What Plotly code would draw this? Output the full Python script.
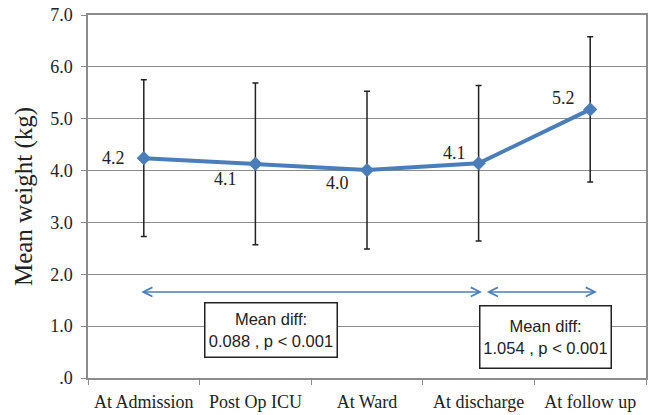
import plotly.graph_objects as go

categories = ["At Admission", "Post Op ICU", "At Ward", "At discharge", "At follow up"]
mean_weight = [4.24, 4.13, 4.01, 4.14, 5.18]
sd_weight = [1.51, 1.56, 1.52, 1.50, 1.40]
y_tick_vals = [0, 1, 2, 3, 4, 5, 6, 7]
y_tick_text = [".0", "1.0", "2.0", "3.0", "4.0", "5.0", "6.0", "7.0"]
box_texts = ["Mean diff:<br>0.088 , p < 0.001", "Mean diff:<br>1.054 , p < 0.001"]

BLUE = "#4A7EBB"
GRID = "#8c8c8c"
SERIF = "Liberation Serif, Times New Roman, serif"
SANS = "Liberation Sans, Arial, sans-serif"

fig = go.Figure()
fig.add_trace(go.Scatter(
    x=categories, y=mean_weight, mode="lines+markers",
    line=dict(color=BLUE, width=4),
    marker=dict(symbol="diamond", size=11, color=BLUE),
    error_y=dict(type="data", array=sd_weight, visible=True,
                 color="#222222", thickness=1.5, width=3),
    showlegend=False,
))

# data labels
label_shifts = [(-17, 0), (-16, -15), (-16, -13), (-11, 10), (-13, 11)]
for c, v, (dx, dy) in zip(categories, mean_weight, label_shifts):
    fig.add_annotation(x=c, y=v, text=f"{v:.1f}", showarrow=False,
                       xanchor="right", yanchor="middle", xshift=dx, yshift=dy,
                       font=dict(family=SERIF, size=18, color="#222222"))

# double-headed arrows
for x0, x1 in [(-0.036, 3.03), (3.06, 4.06)]:
    fig.add_annotation(x=x1, y=1.66, ax=x0, ay=1.66, xref="x", yref="y",
                       axref="x", ayref="y", text="", showarrow=True,
                       arrowside="end+start", arrowhead=5, startarrowhead=5,
                       arrowsize=1.2, startarrowsize=1.2, arrowwidth=1.5,
                       arrowcolor=BLUE, standoff=0, startstandoff=0)

# text boxes
for (bx, by, w, h), t in zip([(1.14, 0.92, 125, 47), (3.6, 0.80, 124, 55)], box_texts):
    fig.add_annotation(x=bx, y=by, xref="x", yref="y", text=t, showarrow=False,
                       width=w, height=h, align="center", valign="middle",
                       bgcolor="white", bordercolor="#222222", borderwidth=1.5,
                       borderpad=3, font=dict(family=SANS, size=16.5, color="#222222"))

fig.update_layout(
    width=649, height=415,
    margin=dict(l=88, r=3, t=15, b=37, autoexpand=False),
    paper_bgcolor="white", plot_bgcolor="white",
    font=dict(family=SERIF, color="#222222"),
)
fig.update_xaxes(
    type="category", range=[-0.5, 4.5], automargin=False,
    showline=True, linecolor=GRID, linewidth=1.5, mirror=True,
    ticks="outside", tickson="boundaries", ticklen=5, tickcolor=GRID,
    ticklabelstandoff=7,
    showgrid=False, tickfont=dict(family=SERIF, size=18, color="#222222"),
)
fig.update_yaxes(
    range=[0, 7], tickvals=y_tick_vals, ticktext=y_tick_text, automargin=False,
    showline=True, linecolor=GRID, linewidth=1.5, mirror=True,
    ticks="outside", ticklen=5, tickcolor=GRID, ticklabelstandoff=5,
    showgrid=True, gridcolor=GRID, gridwidth=1.2, zeroline=False,
    tickfont=dict(family=SERIF, size=18, color="#222222"),
    title=dict(text="Mean weight (kg)", font=dict(family=SERIF, size=25, color="#222222"), standoff=10),
)

fig.write_html(
    "out.html",
    config={"displayModeBar": False},
    post_script="document.body.style.margin='0';document.body.style.overflow='hidden';",
)
